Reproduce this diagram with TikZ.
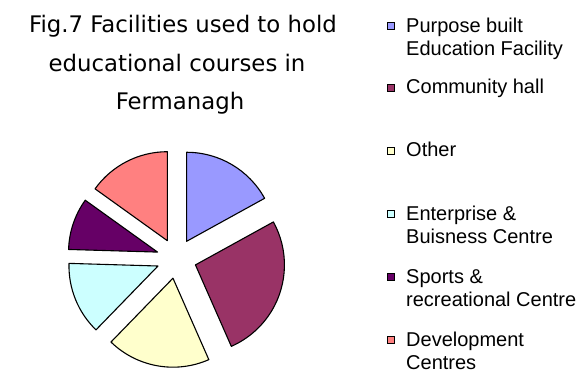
\documentclass[tikz,border=0pt]{standalone}
\usepackage{fontspec}
\usetikzlibrary{calc}
\setmainfont{Liberation Sans}
\newfontfamily\titlefont{DejaVu Sans}
\definecolor{purp}{HTML}{9999FF}
\definecolor{comm}{HTML}{993366}
\definecolor{oth}{HTML}{FFFFCC}
\definecolor{ent}{HTML}{CCFFFF}
\definecolor{spo}{HTML}{660066}
\definecolor{dev}{HTML}{FF8080}
\begin{document}
\begin{tikzpicture}[x=1pt,y=1pt,
  slice/.style={draw=black, line width=1.1pt, line join=round},
  legsq/.style={draw=black, line width=0.6pt, minimum size=7.5pt, inner sep=0pt},
  legtxt/.style={anchor=base west, align=left, font=\fontsize{20}{23.5}\selectfont, inner sep=0pt},
  titletxt/.style={anchor=base, font=\titlefont\fontsize{22.8}{28}\selectfont, inner sep=0pt}]
\useasboundingbox (0,0) rectangle (579,-374);
% title
\node[titletxt] (t1) at (183,-33) {Fig.7 Facilities used to hold};
\node[titletxt] (t2) at (177,-72) {educational courses in};
\node[titletxt] (t3) at (180,-110) {Fermanagh};
% pie
\coordinate (C) at (176.5,-258.5);
\foreach \a/\b/\col in {90/28.87/purp, 28.87/-66.23/comm, -66.23/-134.15/oth, -134.15/-181.70/ent, -181.70/-215.66/spo, -215.66/-270/dev} {
  \pgfmathsetmacro\m{(\a+\b)/2}
  \draw[slice, fill=\col] ($(C)+(\m:20)$) coordinate (apex) -- ($(apex)+(\a:89)$) arc[start angle=\a, end angle=\b, radius=89] -- cycle;
}
% legend
\node[legsq, fill=purp] (s1) at (391,-26) {};
\node[legtxt] (l1) at (406,-56) {Purpose built\\Education Facility};
\node[legsq, fill=comm] (s2) at (391,-88) {};
\node[legtxt] (l2) at (406,-94) {Community hall};
\node[legsq, fill=oth] (s3) at (391,-151) {};
\node[legtxt] (l3) at (406,-157) {Other};
\node[legsq, fill=ent] (s4) at (391,-214) {};
\node[legtxt] (l4) at (406,-244) {Enterprise \&\\Buisness Centre};
\node[legsq, fill=spo] (s5) at (391,-277) {};
\node[legtxt] (l5) at (406,-307) {Sports \&\\recreational Centre};
\node[legsq, fill=dev] (s6) at (391,-340) {};
\node[legtxt] (l6) at (406,-370) {Development\\Centres};
\end{tikzpicture}
\end{document}
